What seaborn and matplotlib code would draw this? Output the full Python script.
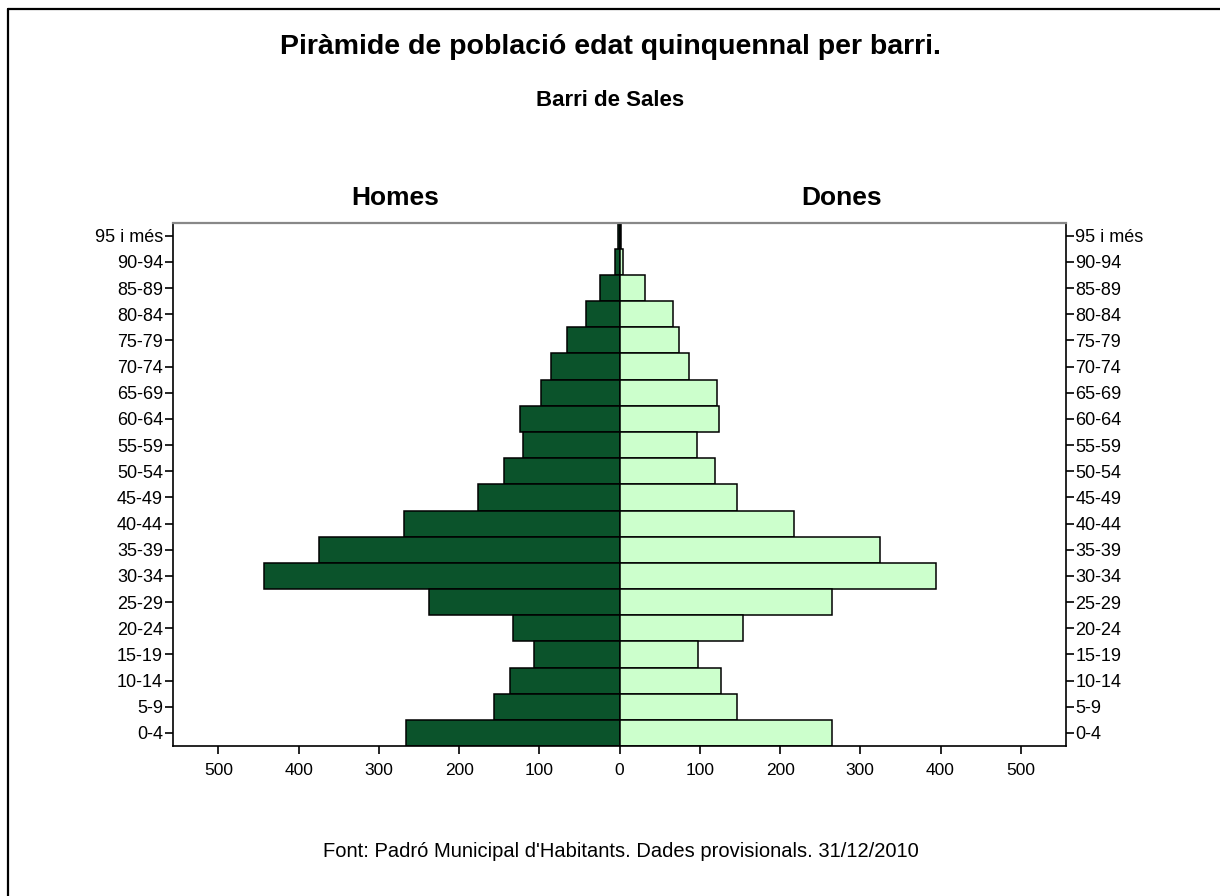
import matplotlib
matplotlib.use('Agg')
import matplotlib.pyplot as plt
import matplotlib.ticker as mticker
from matplotlib.lines import Line2D
import seaborn as sns
import pandas as pd

# Age groups, top to bottom
ages = ['95 i més', '90-94', '85-89', '80-84', '75-79', '70-74', '65-69',
        '60-64', '55-59', '50-54', '45-49', '40-44', '35-39', '30-34',
        '25-29', '20-24', '15-19', '10-14', '5-9', '0-4']
homes = [2, 6, 24, 42, 66, 86, 98, 124, 120, 144, 176, 269, 375, 443,
         238, 133, 107, 137, 156, 266]
dones = [2, 4, 32, 67, 74, 87, 121, 124, 96, 119, 146, 217, 325, 394,
         265, 154, 98, 126, 146, 265]

df = pd.DataFrame({'edat': ages, 'homes': [-v for v in homes], 'dones': dones})

sns.set_style('white')
plt.rcParams['font.family'] = ['Liberation Sans', 'DejaVu Sans']
plt.rcParams['text.color'] = 'black'
plt.rcParams['xtick.color'] = 'black'
plt.rcParams['ytick.color'] = 'black'

fig = plt.figure(figsize=(12.2, 8.96), dpi=100)
ax = fig.add_axes([0.1416, 0.1674, 0.7319, 0.5841])

sns.barplot(data=df, x='homes', y='edat', orient='h', color='#0B532B',
            edgecolor='black', linewidth=1.1, width=1.0, saturation=1, ax=ax)
sns.barplot(data=df, x='dones', y='edat', orient='h', color='#CCFFCC',
            edgecolor='black', linewidth=1.1, width=1.0, saturation=1, ax=ax)

ax.set_xlim(-557, 556)
ax.set_xticks(range(-500, 501, 100))
ax.xaxis.set_major_formatter(mticker.FuncFormatter(lambda v, p: f'{abs(int(v))}'))
ax.set_xlabel('')
ax.set_ylabel('')
ax.tick_params(axis='y', left=True, right=True, labelleft=True, labelright=True,
               length=6, width=1.2, color='black', pad=1, labelsize=13,
               labelcolor='black')
ax.tick_params(axis='x', bottom=True, length=6, width=1.2, color='black',
               pad=6, labelsize=12.5, labelcolor='black')
for s in ['left', 'right', 'bottom']:
    ax.spines[s].set_color('black')
    ax.spines[s].set_linewidth(1.2)
ax.spines['top'].set_color('#888888')
ax.spines['top'].set_linewidth(1.6)

fig.text(0.5, 0.9475, 'Piràmide de població edat quinquennal per barri.',
         ha='center', va='center', fontsize=20.5, fontweight='bold')
fig.text(0.5, 0.888, 'Barri de Sales', ha='center', va='center',
         fontsize=16, fontweight='bold')
fig.text(395 / 1220, 0.779, 'Homes', ha='center', va='center',
         fontsize=19, fontweight='bold')
fig.text(842 / 1220, 0.779, 'Dones', ha='center', va='center',
         fontsize=19, fontweight='bold')
fig.text(621 / 1220, 0.050,
         "Font: Padró Municipal d'Habitants. Dades provisionals. 31/12/2010",
         ha='center', va='center', fontsize=14.5)

# frame around the figure (left and top edges visible)
fig.add_artist(Line2D([7.5 / 1220, 7.5 / 1220], [0, 1 - 9.5 / 896],
                      transform=fig.transFigure, color='black', lw=1.6))
fig.add_artist(Line2D([7.5 / 1220, 1], [1 - 9.5 / 896, 1 - 9.5 / 896],
                      transform=fig.transFigure, color='black', lw=1.6))

fig.savefig('out.png', dpi=100)
